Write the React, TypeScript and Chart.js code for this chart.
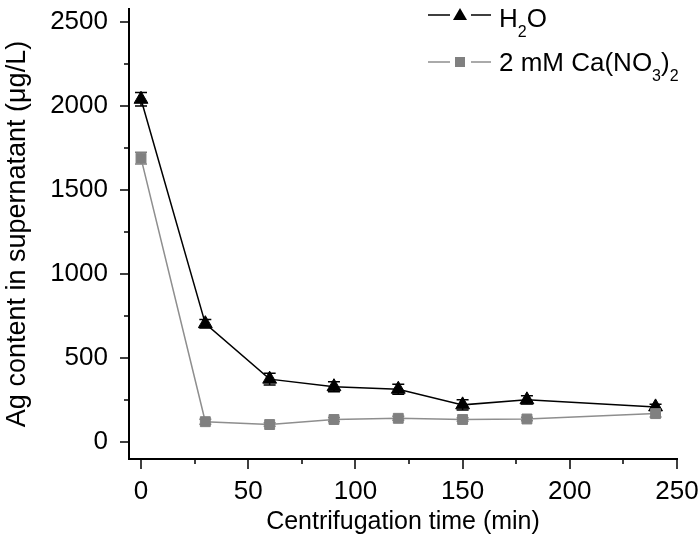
import React, { useEffect, useRef } from "react";
import { Chart, registerables } from "chart.js";

Chart.register(...registerables);

// ---- data ----
const times = [0, 30, 60, 90, 120, 150, 180, 240];
const h2oValues = [2040, 705, 375, 330, 315, 222, 252, 210];
const h2oErrors = [40, 25, 35, 30, 30, 30, 25, 15];
const caValues = [1690, 122, 105, 135, 142, 135, 138, 170];
const caErrors = [35, 15, 10, 12, 12, 10, 10, 20];
const xTickValues = [0, 25, 50, 75, 100, 125, 150, 175, 200, 225, 250];
const yTickValues = [0, 250, 500, 750, 1000, 1250, 1500, 1750, 2000, 2250, 2500];
const xTitle = "Centrifugation time (min)";
const yTitle = "Ag content in supernatant (\u03BCg/L)";

const FONT = "'Liberation Sans', Arial, sans-serif";
const BLACK = "#000000";
const GRAY = "#808080";
const GRAY_LINE = "#8e8e8e";

type Part = { t: string; sub?: boolean };
const legendItems: { parts: Part[]; color: string; line: string; style: string }[] = [
  { parts: [{ t: "H" }, { t: "2", sub: true }, { t: "O" }], color: BLACK, line: BLACK, style: "triangle" },
  {
    parts: [{ t: "2 mM Ca(NO" }, { t: "3", sub: true }, { t: ")" }, { t: "2", sub: true }],
    color: GRAY,
    line: GRAY_LINE,
    style: "rect",
  },
];

const errorBarPlugin = {
  id: "errorBars",
  beforeDatasetsDraw(chart: any) {
    const ctx = chart.ctx;
    const xs = chart.scales.x;
    const ys = chart.scales.y;
    ctx.save();
    chart.data.datasets.forEach((ds: any) => {
      const errs: number[] = ds.errors || [];
      ctx.strokeStyle = ds.pointBackgroundColor;
      ctx.lineWidth = 1.5;
      ds.data.forEach((p: any, i: number) => {
        const e = errs[i] || 0;
        const px = xs.getPixelForValue(p.x);
        const top = ys.getPixelForValue(p.y + e);
        const bot = ys.getPixelForValue(p.y - e);
        ctx.beginPath();
        ctx.moveTo(px, top);
        ctx.lineTo(px, bot);
        ctx.moveTo(px - 6, top);
        ctx.lineTo(px + 6, top);
        ctx.moveTo(px - 6, bot);
        ctx.lineTo(px + 6, bot);
        ctx.stroke();
      });
    });
    ctx.restore();
  },
};

const ticksPlugin = {
  id: "axisTicks",
  afterDraw(chart: any) {
    const ctx = chart.ctx;
    const xs = chart.scales.x;
    const ys = chart.scales.y;
    const area = chart.chartArea;
    ctx.save();
    ctx.strokeStyle = BLACK;
    ctx.lineWidth = 1.5;
    ctx.beginPath();
    xTickValues.forEach((v) => {
      const px = Math.round(xs.getPixelForValue(v));
      const len = v % 50 === 0 ? 10 : 5;
      ctx.moveTo(px, area.bottom);
      ctx.lineTo(px, area.bottom + len);
    });
    yTickValues.forEach((v) => {
      const py = Math.round(ys.getPixelForValue(v));
      const len = v % 500 === 0 ? 9 : 5;
      ctx.moveTo(area.left, py);
      ctx.lineTo(area.left - len, py);
    });
    ctx.stroke();
    ctx.restore();
  },
};

function drawRich(ctx: CanvasRenderingContext2D, parts: Part[], x: number, y: number) {
  let cx = x;
  parts.forEach((p) => {
    ctx.font = p.sub ? `16px ${FONT}` : `26px ${FONT}`;
    ctx.fillText(p.t, cx, p.sub ? y + 10 : y);
    cx += ctx.measureText(p.t).width;
  });
}

const legendPlugin = {
  id: "customLegend",
  afterDraw(chart: any) {
    const ctx = chart.ctx;
    ctx.save();
    const rows = [15, 62];
    legendItems.forEach((item, i) => {
      const y = rows[i];
      ctx.strokeStyle = item.line;
      ctx.lineWidth = 1.5;
      ctx.beginPath();
      ctx.moveTo(428, y);
      ctx.lineTo(450, y);
      ctx.moveTo(471, y);
      ctx.lineTo(491, y);
      ctx.stroke();
      ctx.fillStyle = item.color;
      ctx.beginPath();
      if (item.style === "triangle") {
        ctx.moveTo(460, y - 7);
        ctx.lineTo(467, y + 5);
        ctx.lineTo(453, y + 5);
        ctx.closePath();
        ctx.fill();
      } else {
        ctx.fillRect(455, y - 5, 10, 10);
      }
      ctx.fillStyle = BLACK;
      ctx.textBaseline = "alphabetic";
      ctx.textAlign = "left";
      drawRich(ctx, item.parts, 499, y + 12 - (i === 0 ? 0 : 3));
    });
    ctx.restore();
  },
};

export default function App() {
  const ref = useRef<HTMLCanvasElement | null>(null);
  useEffect(() => {
    if (!ref.current) return;
    const chart = new Chart(ref.current, {
      type: "line",
      data: {
        datasets: [
          {
            label: "H2O",
            data: times.map((t, i) => ({ x: t, y: h2oValues[i] })),
            borderColor: BLACK,
            borderWidth: 1.5,
            pointStyle: "triangle",
            pointRadius: 8,
            pointBackgroundColor: BLACK,
            pointBorderColor: BLACK,
            pointBorderWidth: 1,
            order: 2,
            errors: h2oErrors,
          } as any,
          {
            label: "2 mM Ca(NO3)2",
            data: times.map((t, i) => ({ x: t, y: caValues[i] })),
            borderColor: GRAY_LINE,
            borderWidth: 1.5,
            pointStyle: "rect",
            pointRadius: 7,
            pointBackgroundColor: GRAY,
            pointBorderColor: GRAY,
            pointBorderWidth: 1,
            order: 1,
            errors: caErrors,
          } as any,
        ],
      },
      options: {
        responsive: false,
        animation: false,
        layout: { padding: { left: 0, right: 22, top: 0, bottom: 0 } },
        plugins: { legend: { display: false }, tooltip: { enabled: false } },
        scales: {
          x: {
            type: "linear",
            min: -5.6,
            max: 250,
            afterBuildTicks: (s: any) => {
              s.ticks = xTickValues.map((v) => ({ value: v }));
            },
            afterFit: (s: any) => {
              s.height = 87;
              s.paddingLeft = 0;
              s.paddingRight = 0;
            },
            ticks: {
              autoSkip: false,
              maxRotation: 0,
              color: BLACK,
              font: { family: FONT, size: 26 },
              padding: 7,
              callback: (v: any) => (Number(v) % 50 === 0 ? String(v) : ""),
            },
            grid: { display: true, drawOnChartArea: false, color: "rgba(0,0,0,0)", tickLength: 10 },
            border: { display: true, color: BLACK, width: 2 },
            title: {
              display: true,
              text: xTitle,
              color: BLACK,
              font: { family: FONT, size: 25 },
              padding: { top: 0, bottom: 9 },
            },
          },
          y: {
            type: "linear",
            min: -100,
            max: 2577,
            afterBuildTicks: (s: any) => {
              s.ticks = yTickValues.map((v) => ({ value: v }));
            },
            afterFit: (s: any) => {
              s.width = 129;
              s.paddingTop = 0;
              s.paddingBottom = 0;
            },
            ticks: {
              autoSkip: false,
              color: BLACK,
              font: { family: FONT, size: 26 },
              padding: 12,
              callback: (v: any) => (Number(v) % 500 === 0 ? String(v) : ""),
            },
            grid: { display: true, drawOnChartArea: false, color: "rgba(0,0,0,0)", tickLength: 9 },
            border: { display: true, color: BLACK, width: 2 },
            title: {
              display: true,
              text: yTitle,
              color: BLACK,
              font: { family: FONT, size: 27 },
              padding: { top: 1, bottom: 0 },
            },
          },
        },
      },
      plugins: [errorBarPlugin, ticksPlugin, legendPlugin],
    } as any);
    return () => chart.destroy();
  }, []);
  return (
    <div style={{ position: "absolute", left: 0, top: 0, width: 699, height: 546, background: "#fff" }}>
      <canvas ref={ref} width={699} height={546} />
    </div>
  );
}
